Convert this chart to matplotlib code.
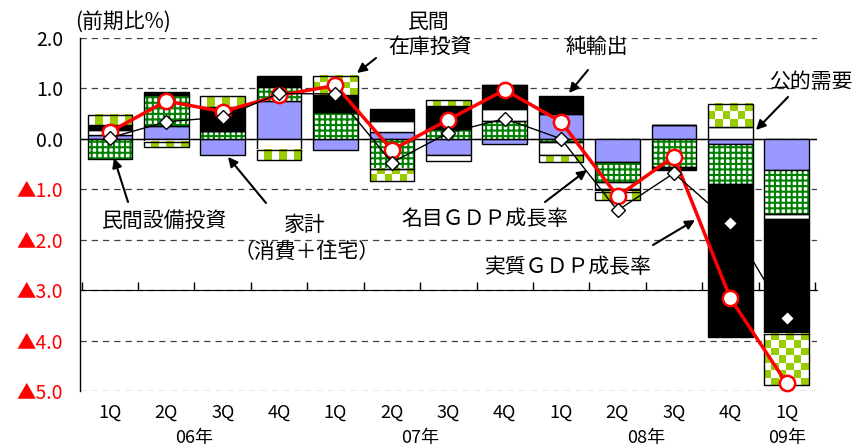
import numpy as np
import matplotlib
matplotlib.use('Agg')
import matplotlib.pyplot as plt
from matplotlib.colors import ListedColormap

plt.rcParams['font.family'] = ['Noto Sans CJK JP', 'DejaVu Sans']
plt.rcParams['hatch.linewidth'] = 1.5

# ---------------- data ----------------
quarters = ['1Q', '2Q', '3Q', '4Q', '1Q', '2Q', '3Q', '4Q', '1Q', '2Q', '3Q', '4Q', '1Q']
years = ['06年', '07年', '08年', '09年']
year_pos = [1.5, 5.5, 9.5, 12.0]

household   = [0.08, 0.26, -0.32, 0.76, -0.23, 0.13, -0.33, -0.10, 0.50, -0.45, 0.28, -0.10, -0.62]
capex       = [-0.40, 0.60, 0.16, 0.26, 0.53, -0.60, 0.20, 0.36, -0.07, -0.41, -0.55, -0.79, -0.87]
public      = [0.10, -0.07, 0.00, -0.22, 0.00, 0.23, -0.10, 0.24, -0.26, -0.14, 0.00, 0.23, -0.10]
net_exports = [0.10, 0.06, 0.47, 0.23, 0.33, 0.23, 0.46, 0.47, 0.34, -0.06, -0.07, -3.03, -2.27]
inventory   = [0.20, -0.10, 0.21, -0.20, 0.39, -0.24, 0.11, 0.00, -0.13, -0.16, 0.00, 0.47, -1.02]

real_gdp    = [0.14, 0.75, 0.54, 0.86, 1.06, -0.22, 0.38, 0.97, 0.34, -1.14, -0.35, -3.16, -4.85]
nominal_gdp = [0.02, 0.34, 0.43, 0.90, 0.89, -0.47, 0.12, 0.40, 0.00, -1.42, -0.68, -1.66, -3.55]

ytick_vals = [2, 1, 0, -1, -2, -3, -4, -5]
ytick_labels = ['2.0', '1.0', '0.0', '▲1.0', '▲2.0', '▲3.0', '▲4.0', '▲5.0']

# ---------------- figure ----------------
W, H = 860, 448
fig = plt.figure(figsize=(W / 100, H / 100), dpi=100)
ax = fig.add_axes([80 / W, 1 - 391 / H, 736.6 / W, 353 / H])
n = len(quarters)
x = np.arange(n)
ax.set_xlim(-0.53, 12.53)
ax.set_ylim(-5, 2)

ppu = abs(ax.transData.transform((0, 1))[1] - ax.transData.transform((0, 0))[1])

width = 0.79
series = [household, capex, public, net_exports, inventory]
styles = ['lavender', 'grid', 'white', 'black', 'checker']
pos_base = np.zeros(n)
neg_base = np.zeros(n)
checker_cmap = ListedColormap(['white', '#99CC00'])
for vals, style in zip(series, styles):
    v = np.array(vals, dtype=float)
    bottom = np.where(v >= 0, pos_base, neg_base)
    if style == 'lavender':
        ax.bar(x, v, width, bottom=bottom, color='#9999FF', edgecolor='black', linewidth=1, zorder=2)
    elif style == 'white':
        ax.bar(x, v, width, bottom=bottom, color='white', edgecolor='black', linewidth=1, zorder=2)
    elif style == 'black':
        ax.bar(x, v, width, bottom=bottom, color='black', edgecolor='black', linewidth=1, zorder=2)
    elif style == 'grid':
        ax.bar(x, v, width, bottom=bottom, color='white', edgecolor='#008000', hatch='+++',
               linewidth=0, zorder=2)
        ax.bar(x, v, width, bottom=bottom, fill=False, edgecolor='black', linewidth=1, zorder=2.5)
    elif style == 'checker':
        for i in range(n):
            if v[i] == 0:
                continue
            y0, y1 = sorted([bottom[i], bottom[i] + v[i]])
            nr = max(1, int(round((y1 - y0) * ppu / 7.3)))
            nc = 6
            arr = np.add.outer(np.arange(nr), np.arange(nc)) % 2
            ax.imshow(arr, cmap=checker_cmap, vmin=0, vmax=1, interpolation='nearest',
                      extent=(x[i] - width / 2, x[i] + width / 2, y0, y1), aspect='auto', zorder=2)
        ax.bar(x, v, width, bottom=bottom, fill=False, edgecolor='black', linewidth=1, zorder=2.5)
    pos_base = pos_base + np.where(v >= 0, v, 0)
    neg_base = neg_base + np.where(v < 0, v, 0)

ax.set_xlim(-0.53, 12.53)
ax.set_ylim(-5, 2)

# lines
ax.plot(x, real_gdp, color='red', lw=2.5, marker='o', ms=11, mfc='white', mec='red',
        mew=1.8, zorder=4, clip_on=False)
ax.plot(x, nominal_gdp, color='black', lw=1, marker='D', ms=7.5, mfc='white', mec='black',
        mew=1, zorder=5, clip_on=False)

# axes styling
ax.set_yticks(ytick_vals)
ax.set_yticklabels(ytick_labels, fontsize=14)
for lab, v in zip(ax.get_yticklabels(), ytick_vals):
    lab.set_color('red' if v < 0 else 'black')
ax.tick_params(axis='y', length=0, pad=12)
ax.grid(axis='y', color='#404040', linestyle=(0, (5, 4)), lw=0.9)
ax.set_axisbelow(True)
ax.axhline(0, color='black', lw=1, zorder=1)

ax.spines['top'].set_visible(False)
ax.spines['right'].set_visible(False)
ax.spines['bottom'].set_position(('data', -3))
ax.spines['left'].set_linewidth(1)
ax.set_xticks(np.arange(n + 1) - 0.5)
ax.set_xticklabels([])
ax.tick_params(axis='x', direction='in', length=6, width=1)

# category labels
trans = ax.get_xaxis_transform()
for xi, q in zip(x, quarters):
    ax.text(xi, -0.062, q, transform=trans, ha='center', va='center', fontsize=13)
for yp, yl in zip(year_pos, years):
    ax.text(yp, -0.133, yl, transform=trans, ha='center', va='center', fontsize=13)

# annotations (pixel positions, top-left origin)
def ftext(px, py, s, **kw):
    fig.text(px / W, 1 - py / H, s, ha='center', va='center', fontsize=15, **kw)

def arrow(x0, y0, x1, y1):
    ax.annotate('', xy=(x1, H - y1), xytext=(x0, H - y0), xycoords='figure pixels',
                textcoords='figure pixels',
                arrowprops=dict(arrowstyle='-|>', color='black', lw=1.5, mutation_scale=14,
                                shrinkA=0, shrinkB=0), zorder=6)

fig.text(75 / W, 1 - 22 / H, '(前期比%)', ha='left', va='center', fontsize=15)
ftext(429, 22, '民間')
ftext(430, 47, '在庫投資')
arrow(376, 58, 357, 73)
ftext(597, 47, '純輸出')
arrow(588, 70, 569, 93)
ftext(812, 82, '公的需要')
arrow(788, 97, 756, 130)
ftext(165, 221, '民間設備投資')
arrow(128, 202, 114, 158)
ftext(305, 225, '家計')
ftext(307, 253, '（消費＋住宅）')
arrow(266, 203, 228, 157)
ftext(485, 219, '名目ＧＤＰ成長率')
arrow(545, 202, 587, 170)
ftext(568, 267, '実質ＧＤＰ成長率')
arrow(653, 245, 695, 220)

fig.savefig('out.png', dpi=100)
